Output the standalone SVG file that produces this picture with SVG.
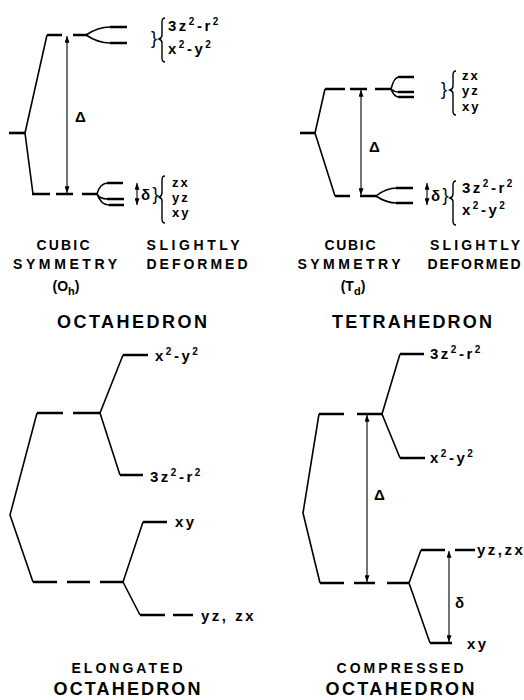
<svg xmlns="http://www.w3.org/2000/svg" width="524" height="700" viewBox="0 0 524 700">
  <style>
    .lvl { fill: none; stroke: #000; stroke-width: 2.6; stroke-linecap: butt; }
    .tie { fill: none; stroke: #000; stroke-width: 1.6; stroke-linejoin: round; }
    .arr { fill: none; stroke: #000; stroke-width: 1.1; marker-start: url(#ah); marker-end: url(#ah); }
    .brace { fill: none; stroke: #000; stroke-width: 1.4; }
    .lab { font-family: "Liberation Sans", Arial, sans-serif; font-weight: bold; font-size: 15px; letter-spacing: 2.5px; fill: #000; }
    .stk { font-family: "Liberation Sans", Arial, sans-serif; font-weight: bold; font-size: 13px; letter-spacing: 2px; fill: #000; }
    .sup { font-size: 10px; }
    .br { font-family: "Liberation Sans", Arial, sans-serif; font-size: 18px; font-weight: normal; fill: #000; }
    .cap { font-family: "Liberation Sans", Arial, sans-serif; font-weight: bold; font-size: 14px; fill: #000; text-anchor: middle; }
    .title { font-family: "Liberation Sans", Arial, sans-serif; font-weight: bold; font-size: 18px; fill: #000; text-anchor: middle; }
  </style>
  <defs>
    <marker id="ah" viewBox="0 0 8 6" refX="8" refY="3" markerWidth="7" markerHeight="5" markerUnits="userSpaceOnUse" orient="auto-start-reverse">
      <path d="M0,0 L8,3 L0,6 z" fill="#000"/>
    </marker>
  </defs>

  <rect width="524" height="700" fill="#fff"/>

  <!-- Octahedral field, cubic and slightly deformed -->
  <g id="octahedron-cubic">
    <path class="lvl" d="M9,133 H25"/>
    <path class="tie" d="M25,133 L47,35 M25,133 L33,194"/>
    <path class="lvl" d="M47,35 H62 M73,35 H87"/>
    <path class="tie" d="M86,35 Q98,27 110,27 M86,35 Q98,43 110,43"/>
    <path class="lvl" d="M110,27 H127 M110,43 H127"/>
    <path class="lvl" d="M32,194 H50 M56,194 H73 M82,194 H98"/>
    <path class="tie" d="M97,194 Q100,183 108,183 M97,194 Q100,199 107,199 M97,194 Q101,205 109,205"/>
    <path class="lvl" d="M107,183 H123 M107,199 H124 M109,205 H124"/>
    <text class="lab" x="75" y="122">Δ</text>
    <text class="br" x="151" y="44">}</text>
    <path class="brace" d="M165,18 Q162,18 162,22 V35 Q162,38 159,39 Q162,40 162,43 V58 Q162,62 165,62"/>
    <text class="lab" x="168" y="31">3z<tspan class="sup" dy="-6">2</tspan><tspan dy="6">-r</tspan><tspan class="sup" dy="-6">2</tspan></text>
    <text class="lab" x="168" y="54">x<tspan class="sup" dy="-6">2</tspan><tspan dy="6">-y</tspan><tspan class="sup" dy="-6">2</tspan></text>
    <text class="lab" x="141" y="200" letter-spacing="1">δ<tspan font-size="18" font-weight="normal">}</tspan></text>
    <path class="brace" d="M165,176 Q162,176 162,180 V193 Q162,196 159,197 Q162,198 162,201 V219 Q162,223 165,223"/>
    <text class="stk" x="172" y="187">zx</text>
    <text class="stk" x="172" y="202">yz</text>
    <text class="stk" x="172" y="217">xy</text>
  </g>

  <!-- Tetrahedral field, cubic and slightly deformed -->
  <g id="tetrahedron-cubic">
    <path class="lvl" d="M300,133 H315"/>
    <path class="tie" d="M315,133 L325,89 M315,133 L335,196"/>
    <path class="lvl" d="M325,89 H345 M350,89 H367 M375,89 H392"/>
    <path class="tie" d="M391,89 Q394,77 399,77 M391,89 Q394,92 399,92 M391,89 Q394,97 399,97"/>
    <path class="lvl" d="M398,77 H414 M398,92 H414 M398,97 H414"/>
    <path class="lvl" d="M335,196 H350 M360,196 H377"/>
    <path class="tie" d="M376,196 Q386,188 397,188 M376,196 Q386,203 397,203"/>
    <path class="lvl" d="M396,188 H413 M396,203 H413"/>
    <text class="lab" x="369" y="152">Δ</text>
    <text class="br" x="441" y="95">}</text>
    <path class="brace" d="M456,71 Q453,71 453,75 V86 Q453,89 450,90 Q453,91 453,94 V111 Q453,115 456,115"/>
    <text class="stk" x="462" y="80">zx</text>
    <text class="stk" x="462" y="95">yz</text>
    <text class="stk" x="462" y="111">xy</text>
    <text class="lab" x="431" y="201" letter-spacing="1">δ<tspan font-size="18" font-weight="normal">}</tspan></text>
    <path class="brace" d="M456,181 Q453,181 453,185 V194 Q453,197 450,198 Q453,199 453,202 V221 Q453,225 456,225"/>
    <text class="lab" x="462" y="193">3z<tspan class="sup" dy="-6">2</tspan><tspan dy="6">-r</tspan><tspan class="sup" dy="-6">2</tspan></text>
    <text class="lab" x="462" y="215">x<tspan class="sup" dy="-6">2</tspan><tspan dy="6">-y</tspan><tspan class="sup" dy="-6">2</tspan></text>
  </g>

  <!-- Elongated octahedron -->
  <g id="octahedron-elongated">
    <path class="tie" d="M37,413 L10,515 L33,582"/>
    <path class="lvl" d="M37,413 H63 M73,413 H100"/>
    <path class="tie" d="M100,413 L123,355 M100,413 L120,475"/>
    <path class="lvl" d="M123,355 H148 M120,475 H143"/>
    <path class="lvl" d="M33,582 H57 M67,582 H90 M100,582 H123"/>
    <path class="tie" d="M123,582 L143,522 M123,582 L140,615"/>
    <path class="lvl" d="M143,522 H167 M140,615 H165 M173,615 H193"/>
    <text class="lab" x="155" y="361">x<tspan class="sup" dy="-6">2</tspan><tspan dy="6">-y</tspan><tspan class="sup" dy="-6">2</tspan></text>
    <text class="lab" x="150" y="482">3z<tspan class="sup" dy="-6">2</tspan><tspan dy="6">-r</tspan><tspan class="sup" dy="-6">2</tspan></text>
    <text class="lab" x="175" y="527">xy</text>
    <text class="lab" x="201" y="621">yz, zx</text>
  </g>

  <!-- Compressed octahedron -->
  <g id="octahedron-compressed">
    <path class="tie" d="M319,414 L303,513 L320,583"/>
    <path class="lvl" d="M319,414 H344 M357,414 H383"/>
    <path class="tie" d="M382,414 L400,354 M382,414 L400,458"/>
    <path class="lvl" d="M400,354 H424 M400,458 H425"/>
    <path class="lvl" d="M320,583 H344 M354,583 H375 M387,583 H409"/>
    <path class="tie" d="M409,583 L421,550 M409,583 L430,643"/>
    <path class="lvl" d="M421,550 H445 M455,550 H475 M430,643 H452"/>
    <text class="lab" x="374" y="500">Δ</text>
    <text class="lab" x="455" y="608">δ</text>
    <text class="lab" x="430" y="359">3z<tspan class="sup" dy="-6">2</tspan><tspan dy="6">-r</tspan><tspan class="sup" dy="-6">2</tspan></text>
    <text class="lab" x="430" y="463">x<tspan class="sup" dy="-6">2</tspan><tspan dy="6">-y</tspan><tspan class="sup" dy="-6">2</tspan></text>
    <text class="lab" x="477" y="555" letter-spacing="1">yz,zx</text>
    <text class="lab" x="467" y="649">xy</text>
  </g>

  <!-- Splitting arrows -->
  <g id="connectors">
    <path class="arr" d="M67,36 V193"/>
    <path class="arr" d="M137,183 V205"/>
    <path class="arr" d="M361,90 V195"/>
    <path class="arr" d="M427,183 V205"/>
    <path class="arr" d="M367,415 V582"/>
    <path class="arr" d="M449,551 V642"/>
  </g>

  <!-- Captions -->
  <g id="captions">
    <text class="cap" x="63" y="250" textLength="53" lengthAdjust="spacing">CUBIC</text>
    <text class="cap" x="193" y="250" textLength="93" lengthAdjust="spacing">SLIGHTLY</text>
    <text class="cap" x="65" y="269" textLength="104" lengthAdjust="spacing">SYMMETRY</text>
    <text class="cap" x="197" y="269" textLength="101" lengthAdjust="spacing">DEFORMED</text>
    <text class="cap" x="66" y="291">(O<tspan font-size="11" dy="4">h</tspan><tspan dy="-4">)</tspan></text>
    <text class="title" x="132" y="328" textLength="150" lengthAdjust="spacing">OCTAHEDRON</text>

    <text class="cap" x="350" y="250" textLength="51" lengthAdjust="spacing">CUBIC</text>
    <text class="cap" x="475" y="250" textLength="90" lengthAdjust="spacing">SLIGHTLY</text>
    <text class="cap" x="349" y="269" textLength="103" lengthAdjust="spacing">SYMMETRY</text>
    <text class="cap" x="474" y="269" textLength="93" lengthAdjust="spacing">DEFORMED</text>
    <text class="cap" x="353" y="291">(T<tspan font-size="11" dy="4">d</tspan><tspan dy="-4">)</tspan></text>
    <text class="title" x="412" y="328" textLength="160" lengthAdjust="spacing">TETRAHEDRON</text>

    <text class="cap" x="127" y="673" font-size="16" textLength="111" lengthAdjust="spacing">ELONGATED</text>
    <text class="title" x="127" y="695" textLength="147" lengthAdjust="spacing">OCTAHEDRON</text>
    <text class="cap" x="400" y="673" font-size="16" textLength="127" lengthAdjust="spacing">COMPRESSED</text>
    <text class="title" x="400" y="695" textLength="149" lengthAdjust="spacing">OCTAHEDRON</text>
  </g>
</svg>
